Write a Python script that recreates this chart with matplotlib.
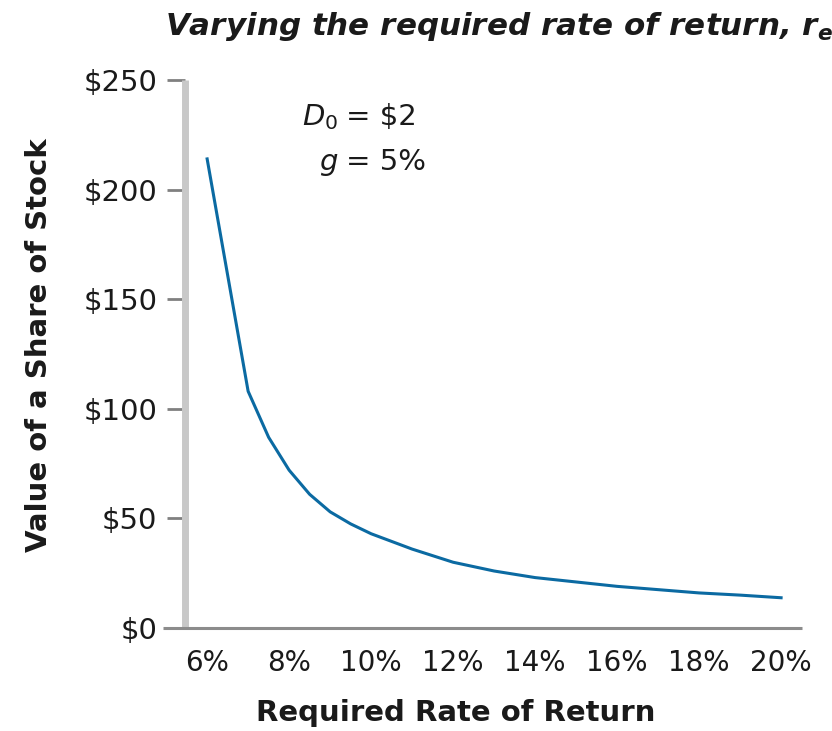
import matplotlib
matplotlib.use("Agg")
import matplotlib.pyplot as plt

# Data
rates = [6, 7, 7.5, 8, 8.5, 9, 9.5, 10, 10.5, 11, 11.5, 12, 13, 14, 15, 16, 17, 18, 19, 20]
values = [214, 108, 87, 72, 61, 53, 47.5, 43, 39.5, 36, 33, 30, 26, 23, 21, 19, 17.5, 16, 15, 13.8]
xticks = [6, 8, 10, 12, 14, 16, 18, 20]
xticklabels = ["6%", "8%", "10%", "12%", "14%", "16%", "18%", "20%"]
yticks = [0, 50, 100, 150, 200, 250]
yticklabels = ["$0", "$50", "$100", "$150", "$200", "$250"]

plt.rcParams['font.family'] = ['DejaVu Sans']
plt.rcParams['mathtext.fontset'] = 'dejavusans'

W, H = 832, 731
fig = plt.figure(figsize=(W / 100, H / 100), dpi=100)
L, R, B, T = 185, 802, 628, 80
ax = fig.add_axes([L / W, 1 - B / H, (R - L) / W, (B - T) / H])

ax.plot(rates, values, color='#0b6aa2', lw=2.2, solid_joinstyle='round')

ax.set_xlim(5.46, 20.51)
ax.set_ylim(0, 250)

for s in ['top', 'right']:
    ax.spines[s].set_visible(False)
ax.spines['left'].set_color('#c8c8c8')
ax.spines['left'].set_linewidth(5)
ax.spines['left'].set_capstyle('butt')
ax.spines['bottom'].set_color('#8c8c8c')
ax.spines['bottom'].set_linewidth(2.2)
ax.spines['bottom'].set_capstyle('butt')
ax.spines['bottom'].set_bounds(4.92, 20.51)

ax.set_xticks(xticks)
ax.set_xticklabels(xticklabels)
ax.set_yticks(yticks)
ax.set_yticklabels(yticklabels)
ax.tick_params(axis='x', length=0, pad=15, labelsize=20, labelcolor='#1a1a1a')
ax.tick_params(axis='y', length=13, width=2, color='#808080', pad=7,
               labelsize=21, labelcolor='#1a1a1a')

ax.set_ylabel("Value of a Share of Stock", fontsize=21, fontweight='bold', color='#1a1a1a')
ax.yaxis.set_label_coords(-0.214, 0.516)
ax.set_xlabel("Required Rate of Return", fontsize=21, fontweight='bold', color='#1a1a1a')
ax.xaxis.set_label_coords(0.439, -0.13)

fig.text(165 / W, 1 - 35 / H,
         r"Varying the required rate of return, $\mathbfit{r}_\mathbfit{e}$",
         fontsize=22.3, fontweight='bold', fontstyle='italic', color='#1a1a1a',
         ha='left', va='baseline')

ax.text(0.248, 0.918, r"$D_0$", transform=ax.transAxes, ha='right', va='baseline',
        fontsize=21, color='#1a1a1a')
ax.text(0.2615, 0.918, r"= \$2", transform=ax.transAxes, ha='left', va='baseline',
        fontsize=21, color='#1a1a1a')
ax.text(0.248, 0.836, r"$g$", transform=ax.transAxes, ha='right', va='baseline',
        fontsize=21, color='#1a1a1a')
ax.text(0.2615, 0.836, "= 5%", transform=ax.transAxes, ha='left', va='baseline',
        fontsize=21, color='#1a1a1a')

fig.savefig("out.png", dpi=100)
